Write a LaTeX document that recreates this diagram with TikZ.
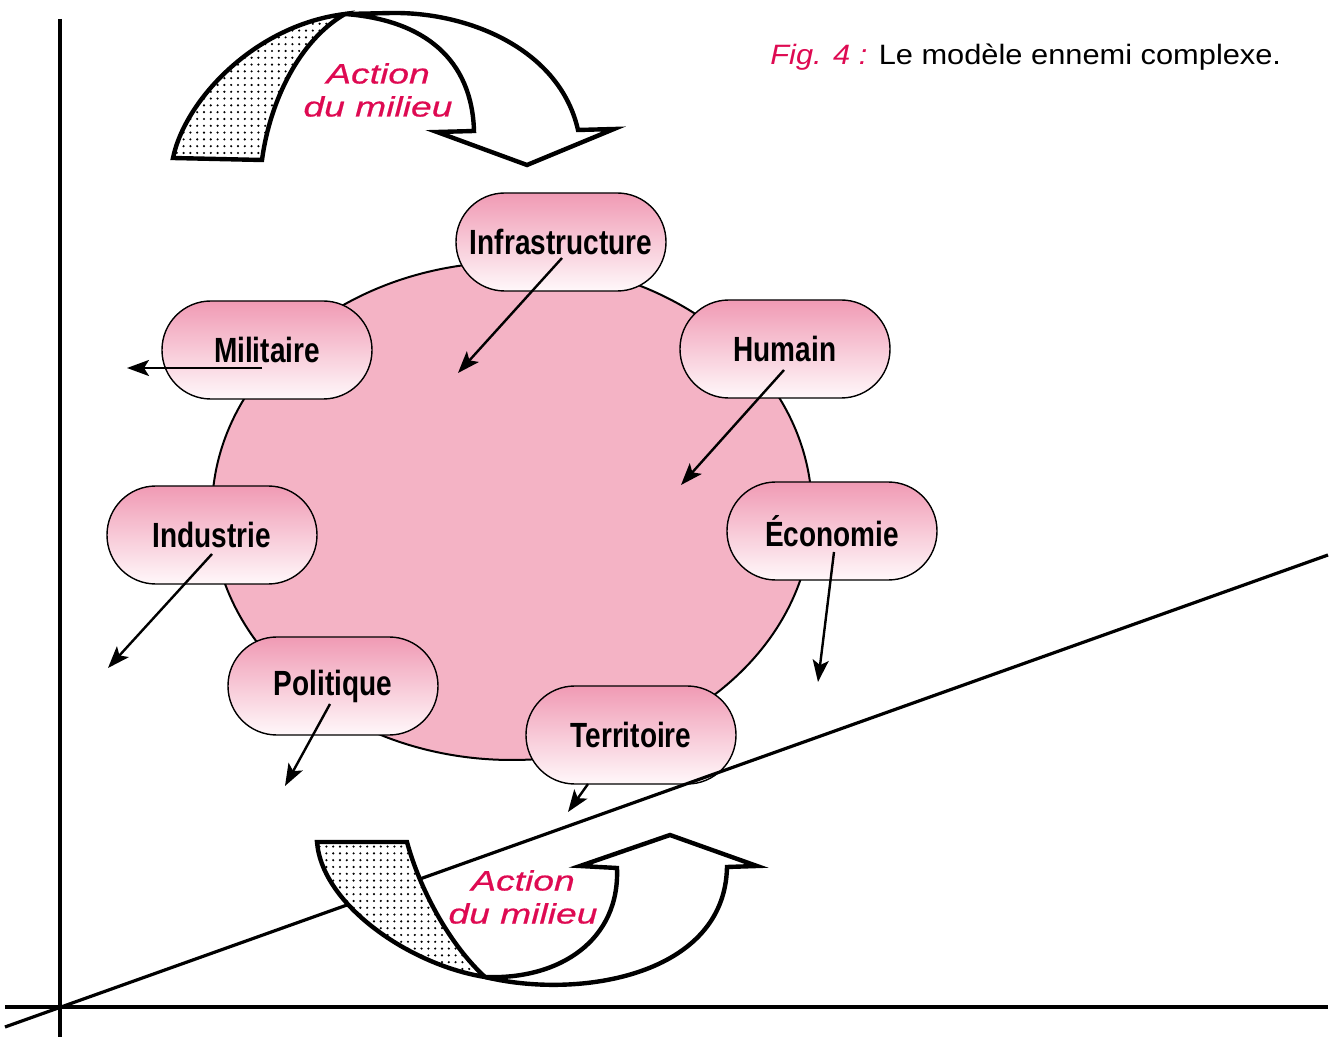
\documentclass[tikz,border=0pt]{standalone}
\usepackage{fontspec}
\setmainfont{Liberation Sans}
\newfontfamily\labelfont[FakeStretch=0.8]{Liberation Sans}
\newfontfamily\titlefont[FakeStretch=1.1]{Liberation Sans}
\newfontfamily\actionfont[FakeStretch=1.33,FakeBold=0.6]{Liberation Sans}
\usetikzlibrary{calc,arrows.meta,patterns.meta,shapes.geometric}
\definecolor{ellpink}{HTML}{F4B3C5}
\definecolor{pilltop}{HTML}{F09AB4}
\definecolor{pillbot}{HTML}{FFF8FA}
\definecolor{actred}{HTML}{DE0A52}
\tikzset{
  pill/.style={draw=black, line width=0.7pt, rectangle, rounded corners=24.4pt,
    minimum width=105pt, minimum height=49pt, top color=pilltop, bottom color=pillbot,
    font=\labelfont\bfseries\fontsize{17.5}{20}\selectfont, inner sep=0pt},
  conn/.style={line width=1.2pt, -{Stealth[length=11pt,width=8pt,inset=2.5pt]}},
  axisline/.style={line width=1.6pt},
  bigarrow/.style={draw=black, line width=2.2pt, line join=miter, fill=white},
  tailfill/.style={draw=black, line width=2.2pt, line join=miter,
    preaction={fill=white}, pattern={Dots[radius=0.6pt,distance=3.4pt]}},
  actiontext/.style={text=actred, align=center, font=\actionfont\itshape\fontsize{14}{16.5}\selectfont, inner sep=0pt}
}
\begin{document}
\begin{tikzpicture}[x=0.5pt,y=-0.5pt]
\useasboundingbox (0,0) rectangle (1335,1037);
% axes
\coordinate (vtop) at (60,19);
\coordinate (vbot) at (60,1037);
\coordinate (hleft) at (5,1007);
\coordinate (hright) at (1328,1007);
\coordinate (dstart) at (5,1027);
\coordinate (dend) at (1328,555);
\draw[axisline] (vtop) -- (vbot);
\draw[axisline] (hleft) -- (hright);
% central ellipse
\node[draw=black, line width=1pt, fill=ellpink, ellipse, minimum width=300pt, minimum height=249pt, inner sep=0pt] (core) at (512,511) {};
% pills
\node[pill] (infra) at (561,242) {Infrastructure};
\node[pill] (mil) at (267,350) {Militaire};
\node[pill] (hum) at (785,349) {Humain};
\node[pill] (ind) at (212,535) {Industrie};
\node[pill] (eco) at (832,531) {Économie};
\node[pill] (pol) at (333,686) {Politique};
\node[pill] (ter) at (631,735) {Territoire};
% diagonal line
\draw[axisline] (dstart) -- (dend);
% connector ends
\coordinate (einfra) at (458,373);
\coordinate (emil) at (127,368);
\coordinate (ehum) at (681,485);
\coordinate (eind) at (108,668);
\coordinate (eeco) at (818,682);
\coordinate (epol) at (285,786);
\coordinate (eter) at (568,812);
\draw[conn] ($(infra.center)+(1,16)$) -- (einfra);
\draw[conn] ($(mil.center)+(-5,18)$) -- (emil);
\draw[conn] ($(hum.center)+(-1,21)$) -- (ehum);
\draw[conn] ($(ind.center)+(0,19)$) -- (eind);
\draw[conn] ($(eco.center)+(2,21)$) -- (eeco);
\draw[conn] ($(pol.center)+(-3,18)$) -- (epol);
\draw[conn] ($(ter.center)+(-43,49)$) -- (eter);
% top curved arrow
\draw[tailfill] (173,158) .. controls (185,100) and (255,25) .. (345,14)
  .. controls (300,40) and (270,100) .. (262,160) -- cycle;
\draw[bigarrow] (345,14) -- (392,13) .. controls (470,12) and (560,50) .. (578,130)
  -- (614,129) -- (527,165) -- (437,132) -- (474,131)
  .. controls (472,60) and (425,20) .. (345,14) -- cycle;
\node[actiontext] (acttop) at (378,90) {Action\\du milieu};
% bottom curved arrow
\draw[tailfill] (317,842) -- (407,842) .. controls (420,890) and (450,945) .. (485,977)
  .. controls (410,965) and (322,905) .. (317,842) -- cycle;
\draw[bigarrow] (485,977) .. controls (580,1000) and (725,975) .. (727,867)
  -- (757,866) -- (670,835) -- (580,866) -- (617,868)
  .. controls (620,940) and (560,980) .. (485,977) -- cycle;
\node[actiontext] (actbot) at (523,897) {Action\\du milieu};
% title
\node[anchor=base west, inner sep=0pt, font=\titlefont\fontsize{14}{16}\selectfont] (title) at (770,65)
  {\textcolor{actred}{\itshape Fig. 4 :} Le modèle ennemi complexe.};
\end{tikzpicture}
\end{document}
